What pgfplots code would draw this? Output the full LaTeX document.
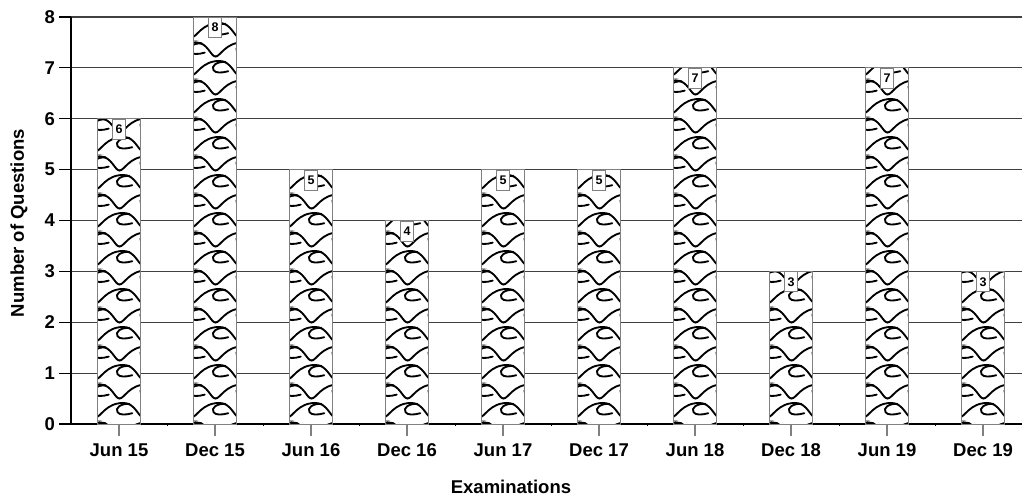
\documentclass[border=0pt]{standalone}
\usepackage{fontspec}
\setmainfont{Liberation Sans}
\usepackage{pgfplots}
\pgfplotsset{compat=1.18}
\usetikzlibrary{patterns}

\newcommand\wavemotif[2]{%
 \begin{pgfscope}%
 \pgftransformshift{\pgfqpoint{#1pt}{#2pt}}%
 \pgfpathmoveto{\pgfqpoint{0pt}{0pt}}%
 \pgfpathcurveto{\pgfqpoint{5pt}{0pt}}{\pgfqpoint{10pt}{14.5pt}}{\pgfqpoint{28pt}{14.5pt}}%
 \pgfpathcurveto{\pgfqpoint{40pt}{14.5pt}}{\pgfqpoint{43pt}{0pt}}{\pgfqpoint{48pt}{0pt}}%
 \pgfusepath{stroke}%
 \pgfpathmoveto{\pgfqpoint{34pt}{13.5pt}}%
 \pgfpathcurveto{\pgfqpoint{25pt}{14pt}}{\pgfqpoint{19pt}{9pt}}{\pgfqpoint{22pt}{5pt}}%
 \pgfpathcurveto{\pgfqpoint{24pt}{2pt}}{\pgfqpoint{30pt}{2pt}}{\pgfqpoint{37pt}{4pt}}%
 \pgfusepath{stroke}%
 \end{pgfscope}}

\pgfdeclarepatternformonly{waves}{\pgfqpoint{0pt}{0pt}}{\pgfqpoint{48pt}{38pt}}{\pgfqpoint{48pt}{38pt}}{%
 \pgfsetlinewidth{1.9pt}\pgfsetroundcap\pgfsetroundjoin
 \wavemotif{-48}{-34}\wavemotif{0}{-34}\wavemotif{48}{-34}%
 \wavemotif{-48}{4}\wavemotif{0}{4}\wavemotif{48}{4}%
 \wavemotif{-48}{42}\wavemotif{0}{42}\wavemotif{48}{42}%
 \wavemotif{-24}{-15}\wavemotif{24}{-15}\wavemotif{72}{-15}%
 \wavemotif{-24}{23}\wavemotif{24}{23}\wavemotif{72}{23}%
 \wavemotif{-24}{61}\wavemotif{24}{61}\wavemotif{72}{61}%
}

\begin{document}
\begin{tikzpicture}
\begin{axis}[
  scale only axis,
  width=951pt, height=407pt,
  xmin=-0.5, xmax=9.406,
  ymin=0, ymax=8,
  axis x line*=bottom, axis y line*=left,
  axis line style={black, line width=1.2pt},
  xtick={0,...,9},
  xticklabels={Jun 15,Dec 15,Jun 16,Dec 16,Jun 17,Dec 17,Jun 18,Dec 18,Jun 19,Dec 19},
  minor xtick={0.5,1.5,...,8.5},
  ytick={0,...,8},
  tick align=outside,
  major tick length=11.5pt,
  minor tick length=2pt,
  x tick style={gray, line width=1.2pt},
  minor x tick style={black, line width=1pt},
  y tick style={black, line width=1.2pt},
  ymajorgrids,
  grid style={black!75, line width=1.2pt},
  /pgf/number format/assume math mode=true,
  tick label style={font=\fontsize{18.5}{22}\selectfont\bfseries},
  xticklabel style={yshift=-5pt},
  yticklabel style={xshift=-1pt},
  xlabel={Examinations},
  ylabel={Number of Questions},
  label style={font=\fontsize{18.5}{22}\selectfont\bfseries},
  xlabel style={at={([yshift=-63pt]axis cs:4.083,0)}, anchor=center},
  ylabel style={at={([xshift=-52pt]axis cs:-0.5,3.95)}, anchor=center},
  nodes near coords,
  every node near coord/.append style={anchor=north, fill=white, draw=gray, line width=0.8pt,
     inner xsep=3pt, inner ysep=0pt, minimum height=20pt,
     font=\fontsize{12.5}{14}\selectfont\bfseries},
]
\addplot[ybar, bar width=43pt, draw=gray, line width=1pt, fill=white,
  postaction={pattern=waves}]
  coordinates {(0,6) (1,8) (2,5) (3,4) (4,5) (5,5) (6,7) (7,3) (8,7) (9,3)};
\end{axis}
\pgfresetboundingbox
\path (-71pt,-72pt) rectangle (951pt,424pt);
\end{tikzpicture}
\end{document}
